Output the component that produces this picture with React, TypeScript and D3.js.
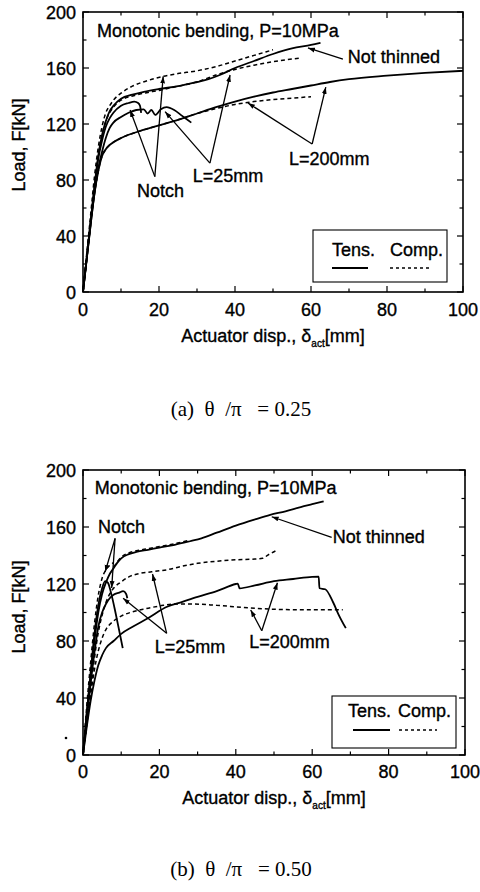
import React from "react";
import * as d3 from "d3";

type Pt = [number, number];

// ---------- axis ticks ----------
const xMajorTicks = [0, 20, 40, 60, 80, 100];
const xMinorTicks = [10, 30, 50, 70, 90];
const yMajorTicks = [0, 40, 80, 120, 160, 200];
const yMinorTicks = [20, 60, 100, 140, 180];

// ---------- panel (a) θ/π = 0.25 ----------
const aNotThinnedTens: Pt[] = [
  [0, 0], [1, 25], [2, 50], [3, 75], [4, 97], [5, 112], [6, 122], [7, 129], [8, 133], [10, 138],
  [13, 141], [16, 143], [20, 145], [25, 147], [30, 150], [33, 152], [36, 155], [40, 160],
  [45, 165], [50, 170], [55, 174], [60, 176.5], [62.5, 178],
];
const aNotchComp: Pt[] = [
  [0, 0], [1, 28], [2, 55], [3, 82], [4, 103], [5, 118], [6, 128], [7, 133], [8, 137], [10, 142],
  [13, 147], [17, 151], [21, 154], [25, 156], [30, 158], [35, 161], [40, 165], [45, 169], [50, 173],
];
const aL25Comp: Pt[] = [
  [0, 0], [1, 25], [2, 50], [3, 75], [4, 97], [5, 112], [6, 122], [7, 128], [8, 132], [10, 137],
  [13, 140], [16, 142], [20, 144], [25, 147], [30, 150], [35, 155], [40, 159], [45, 162],
  [50, 164.5], [57, 167],
];
const aNotchTens: Pt[] = [
  [0, 0], [1, 25], [2, 50], [3, 74], [4, 95], [5, 108], [6, 118], [7, 124], [8, 128], [10, 133],
  [12, 135], [13.5, 136], [14.5, 135], [15, 133], [15.3, 128],
];
const aL25Tens: Pt[] = [
  [0, 0], [1, 24], [2, 48], [3, 70], [4, 88], [5, 100], [6, 110], [7, 117], [8, 121], [10, 125],
  [12, 128], [14, 130], [16, 130.5], [17, 127.5], [18, 130], [19, 126.5], [20.5, 130.5], [22, 132],
  [24, 130], [26, 126], [28.5, 121],
];
const aL200Tens: Pt[] = [
  [0, 0], [1, 24], [2, 48], [3, 70], [4, 86], [5, 97], [6, 102], [7, 105], [8, 107], [10, 110],
  [15, 115], [20, 119], [25, 123], [30, 127.5], [35, 132], [40, 136], [45, 139.5], [50, 142.5],
  [55, 145], [60, 147.5], [65, 150], [70, 152], [80, 154.5], [90, 156.5], [100, 158],
];
const aL200Comp: Pt[] = [
  [0, 0], [1, 24], [2, 48], [3, 70], [4, 86], [5, 97], [6, 102], [7, 105], [8, 107], [10, 110],
  [15, 115], [20, 119], [25, 123], [30, 127.5], [35, 131], [40, 134], [45, 136], [50, 137.5],
  [55, 138.5], [60, 139.5],
];

// leader lines (a): [from, to]
const aLeaders: [Pt, Pt][] = [
  [[68.4, 166.4], [59.2, 174.3]],
  [[18.9, 82.4], [12.4, 130]],
  [[18.9, 82.4], [21.1, 154]],
  [[33.4, 92.1], [21.6, 128.8]],
  [[33.4, 92.1], [38.7, 155]],
  [[60.3, 105.7], [43.4, 135]],
  [[60.3, 105.7], [63.9, 146.4]],
];
const aLabels = ["Monotonic bending, P=10MPa", "Not thinned", "Notch", "L=25mm", "L=200mm"];
const aLabelPos: Pt[] = [[3.7, 182.1], [69.7, 163.4], [14.2, 67.9], [28.9, 78.8], [54.2, 90.7]];

// ---------- panel (b) θ/π = 0.50 ----------
const bNotThinnedTens: Pt[] = [
  [0, 0], [1, 30], [2, 55], [3, 80], [4, 100], [5, 113], [6, 121], [7, 127], [8, 131], [9, 135],
  [10, 138], [12, 141], [14, 142.5], [17, 144], [20, 145.5], [24, 147.5], [28, 150], [31, 152],
  [35, 156], [40, 161], [45, 165.3], [49, 168.5], [53, 171], [57, 174], [60, 176], [63, 178],
];
const bNotThinnedComp: Pt[] = [
  [8, 131.8], [10, 138.8], [12, 141.8], [14, 143.3], [17, 144.8], [20, 146.3], [24, 148.3], [28, 150.8],
];
const bNotchComp: Pt[] = [
  [0, 0], [1, 35], [2, 65], [3, 92], [4, 112], [5, 124], [6, 130], [7, 133], [8, 135],
];
const bNotchTens: Pt[] = [
  [0, 0], [1, 30], [2, 58], [3, 85], [4, 105], [5, 117], [5.8, 122], [6.5, 121], [7.5, 112],
  [8.5, 100], [9.5, 87], [10.4, 75],
];
const bL25Tens: Pt[] = [
  [0, 0], [1, 25], [2, 50], [3, 72], [4, 90], [5, 100], [6, 106], [7, 110], [8, 112.5], [9.5, 114],
  [10.5, 115], [11.3, 113], [11.6, 110],
];
const bL25Comp: Pt[] = [
  [0, 0], [1, 22], [2, 45], [3, 68], [4, 86], [5, 98], [6, 107], [7, 113], [8, 117], [10, 121.5],
  [12, 125], [15, 127.5], [18, 128.6], [22, 130], [26, 132.5], [30, 134.5], [35, 136], [40, 137],
  [45, 137.5], [47, 138], [48.5, 140.5], [51, 144],
];
const bL200Tens: Pt[] = [
  [0, 0], [1, 20], [2, 38], [3, 52], [4, 63], [5, 70], [6, 75], [8, 80], [10, 85], [13, 90],
  [17, 96], [22, 104], [26, 107.5], [30, 111], [35, 115], [40, 120], [40.5, 120.3], [41, 117],
  [45, 119], [50, 122], [55, 123.5], [60, 125], [61.7, 125.1], [61.9, 117], [63.4, 116.3],
  [65.5, 107], [67, 98], [68.8, 89],
];
const bL200Comp: Pt[] = [
  [0, 0], [1, 22], [2, 42], [3, 60], [4, 73], [5, 82], [6, 88], [8, 94], [10, 97.5], [13, 100.5],
  [16, 102.5], [20, 104.5], [24, 106], [28, 106], [35, 105], [40, 104], [45, 103], [50, 102.3],
  [55, 102], [60, 102], [68, 102],
];
const bLeaders: [Pt, Pt][] = [
  [[65.1, 152.8], [49.4, 167.2]],
  [[8.4, 152], [5.8, 128.6]],
  [[8.4, 152], [7.5, 117.2]],
  [[21.9, 85.4], [10.5, 110]],
  [[21.9, 85.4], [18.2, 127]],
  [[46.8, 87.2], [43.9, 101.8]],
  [[46.8, 87.2], [50.9, 120.9]],
];
const bLabels = ["Monotonic bending, P=10MPa", "Notch", "Not thinned", "L=25mm", "L=200mm"];
const bLabelPos: Pt[] = [[3.1, 183.2], [3.9, 155.8], [65.4, 148.8], [18.8, 71.6], [43.5, 75.1]];

const legendLabels = ["Tens.", "Comp."];
const captions = ["(a)  θ  /π   = 0.25", "(b)  θ  /π   = 0.50"];
const yTitle = "Load, F[kN]";

// ---------- layout ----------
const SANS = "'Liberation Sans', Arial, Helvetica, sans-serif";
const SERIF = "'Liberation Serif', 'Times New Roman', serif";
const TXT = { fontFamily: SANS, fontSize: 18, stroke: "#000", strokeWidth: 0.35 };

interface Geom { left: number; right: number; top: number; bottom: number; }
interface Legend { x: number; y: number; w: number; h: number; t1: number; t2: number; ty: number; ly: number; s1: [number, number]; s2: [number, number]; }

const geomA: Geom = { left: 83, right: 463, top: 12, bottom: 292 };
const geomB: Geom = { left: 83, right: 465, top: 470, bottom: 755 };
const legendA: Legend = { x: 313, y: 230, w: 134, h: 52, t1: 332, t2: 390, ty: 256, ly: 268, s1: [332, 368], s2: [390, 430] };
const legendB: Legend = { x: 332, y: 696, w: 124, h: 52, t1: 348, t2: 398, ty: 717, ly: 730, s1: [353, 390], s2: [399, 437] };

interface Series { data: Pt[]; dashed: boolean; }

function Panel(props: {
  g: Geom; series: Series[]; leaders: [Pt, Pt][]; labels: string[]; labelPos: Pt[];
  legend: Legend; caption: string; captionY: number; tickY: number; titleY: number; yTitleY: number;
}) {
  const { g, series, leaders, labels, labelPos, legend, caption, captionY, tickY, titleY, yTitleY } = props;
  const x = d3.scaleLinear().domain([0, 100]).range([g.left, g.right]);
  const y = d3.scaleLinear().domain([0, 200]).range([g.bottom, g.top]);
  const line = d3.line<Pt>().x((d) => x(d[0])).y((d) => y(d[1])).curve(d3.curveMonotoneX);
  const maj = 6, mnr = 3.5;
  return (
    <g>
      {xMajorTicks.map((t) => (
        <g key={"xm" + t}>
          <line x1={x(t)} x2={x(t)} y1={g.bottom} y2={g.bottom - maj} stroke="#000" strokeWidth={1.2} />
          <line x1={x(t)} x2={x(t)} y1={g.top} y2={g.top + maj} stroke="#000" strokeWidth={1.2} />
          <text x={x(t)} y={tickY} textAnchor="middle" {...TXT}>{t}</text>
        </g>
      ))}
      {xMinorTicks.map((t) => (
        <g key={"xn" + t}>
          <line x1={x(t)} x2={x(t)} y1={g.bottom} y2={g.bottom - mnr} stroke="#000" strokeWidth={1.2} />
          <line x1={x(t)} x2={x(t)} y1={g.top} y2={g.top + mnr} stroke="#000" strokeWidth={1.2} />
        </g>
      ))}
      {yMajorTicks.map((t) => (
        <g key={"ym" + t}>
          <line x1={g.left} x2={g.left + maj} y1={y(t)} y2={y(t)} stroke="#000" strokeWidth={1.2} />
          <line x1={g.right} x2={g.right - maj} y1={y(t)} y2={y(t)} stroke="#000" strokeWidth={1.2} />
          <text x={g.left - 7} y={y(t) + 6.5} textAnchor="end" {...TXT}>{t}</text>
        </g>
      ))}
      {yMinorTicks.map((t) => (
        <g key={"yn" + t}>
          <line x1={g.left} x2={g.left + mnr} y1={y(t)} y2={y(t)} stroke="#000" strokeWidth={1.2} />
          <line x1={g.right} x2={g.right - mnr} y1={y(t)} y2={y(t)} stroke="#000" strokeWidth={1.2} />
        </g>
      ))}
      <rect x={g.left} y={g.top} width={g.right - g.left} height={g.bottom - g.top} fill="none" stroke="#000" strokeWidth={1.6} />

      {series.map((s, i) => (
        <path key={"s" + i} d={line(s.data) || ""} fill="none" stroke="#000"
          strokeWidth={s.dashed ? 1.5 : 1.8} strokeDasharray={s.dashed ? "4,3" : undefined}
          strokeLinejoin="round" />
      ))}

      {leaders.map((l, i) => (
        <line key={"l" + i} x1={x(l[0][0])} y1={y(l[0][1])} x2={x(l[1][0])} y2={y(l[1][1])}
          stroke="#000" strokeWidth={1.3} markerEnd="url(#arr)" />
      ))}

      {labels.map((t, i) => (
        <text key={"t" + i} x={x(labelPos[i][0])} y={y(labelPos[i][1])} {...TXT}>{t}</text>
      ))}

      <rect x={legend.x} y={legend.y} width={legend.w} height={legend.h} fill="#fff" stroke="#000" strokeWidth={1.1} />
      <text x={legend.t1} y={legend.ty} {...TXT}>{legendLabels[0]}</text>
      <text x={legend.t2} y={legend.ty} {...TXT}>{legendLabels[1]}</text>
      <line x1={legend.s1[0]} x2={legend.s1[1]} y1={legend.ly} y2={legend.ly} stroke="#000" strokeWidth={1.8} />
      <line x1={legend.s2[0]} x2={legend.s2[1]} y1={legend.ly} y2={legend.ly} stroke="#000" strokeWidth={1.3} strokeDasharray="3,3" />

      <text x={(g.left + g.right) / 2} y={titleY} textAnchor="middle" {...TXT}>
        Actuator disp., δ<tspan fontSize={10} dy={5}>act</tspan><tspan dy={-5}>[mm]</tspan>
      </text>
      <text transform={`translate(25,${yTitleY}) rotate(-90)`} textAnchor="middle" {...TXT}>{yTitle}</text>

      <text x={241} y={captionY} textAnchor="middle" fontSize={21} fontFamily={SERIF} style={{ whiteSpace: "pre" }}>{caption}</text>
    </g>
  );
}

export default function App() {
  const seriesA: Series[] = [
    { data: aNotThinnedTens, dashed: false },
    { data: aNotchComp, dashed: true },
    { data: aL25Comp, dashed: true },
    { data: aNotchTens, dashed: false },
    { data: aL25Tens, dashed: false },
    { data: aL200Tens, dashed: false },
    { data: aL200Comp, dashed: true },
  ];
  const seriesB: Series[] = [
    { data: bNotThinnedTens, dashed: false },
    { data: bNotThinnedComp, dashed: true },
    { data: bNotchComp, dashed: true },
    { data: bNotchTens, dashed: false },
    { data: bL25Tens, dashed: false },
    { data: bL25Comp, dashed: true },
    { data: bL200Tens, dashed: false },
    { data: bL200Comp, dashed: true },
  ];
  return (
    <svg width={480} height={892} style={{ position: "absolute", left: 0, top: 0, background: "#fff" }}>
      <defs>
        <marker id="arr" viewBox="0 0 10 10" refX="10" refY="5" markerWidth="7" markerHeight="7"
          markerUnits="userSpaceOnUse" orient="auto">
          <path d="M0,1.5 L10,5 L0,8.5 z" fill="#000" />
        </marker>
      </defs>
      <rect x={0} y={0} width={480} height={892} fill="#fff" />
      <Panel g={geomA} series={seriesA} leaders={aLeaders} labels={aLabels} labelPos={aLabelPos}
        legend={legendA} caption={captions[0]} captionY={416} tickY={316} titleY={342} yTitleY={145} />
      <Panel g={geomB} series={seriesB} leaders={bLeaders} labels={bLabels} labelPos={bLabelPos}
        legend={legendB} caption={captions[1]} captionY={876} tickY={778} titleY={804} yTitleY={607} />
      <circle cx={66} cy={738} r={1.3} fill="#000" />
    </svg>
  );
}
